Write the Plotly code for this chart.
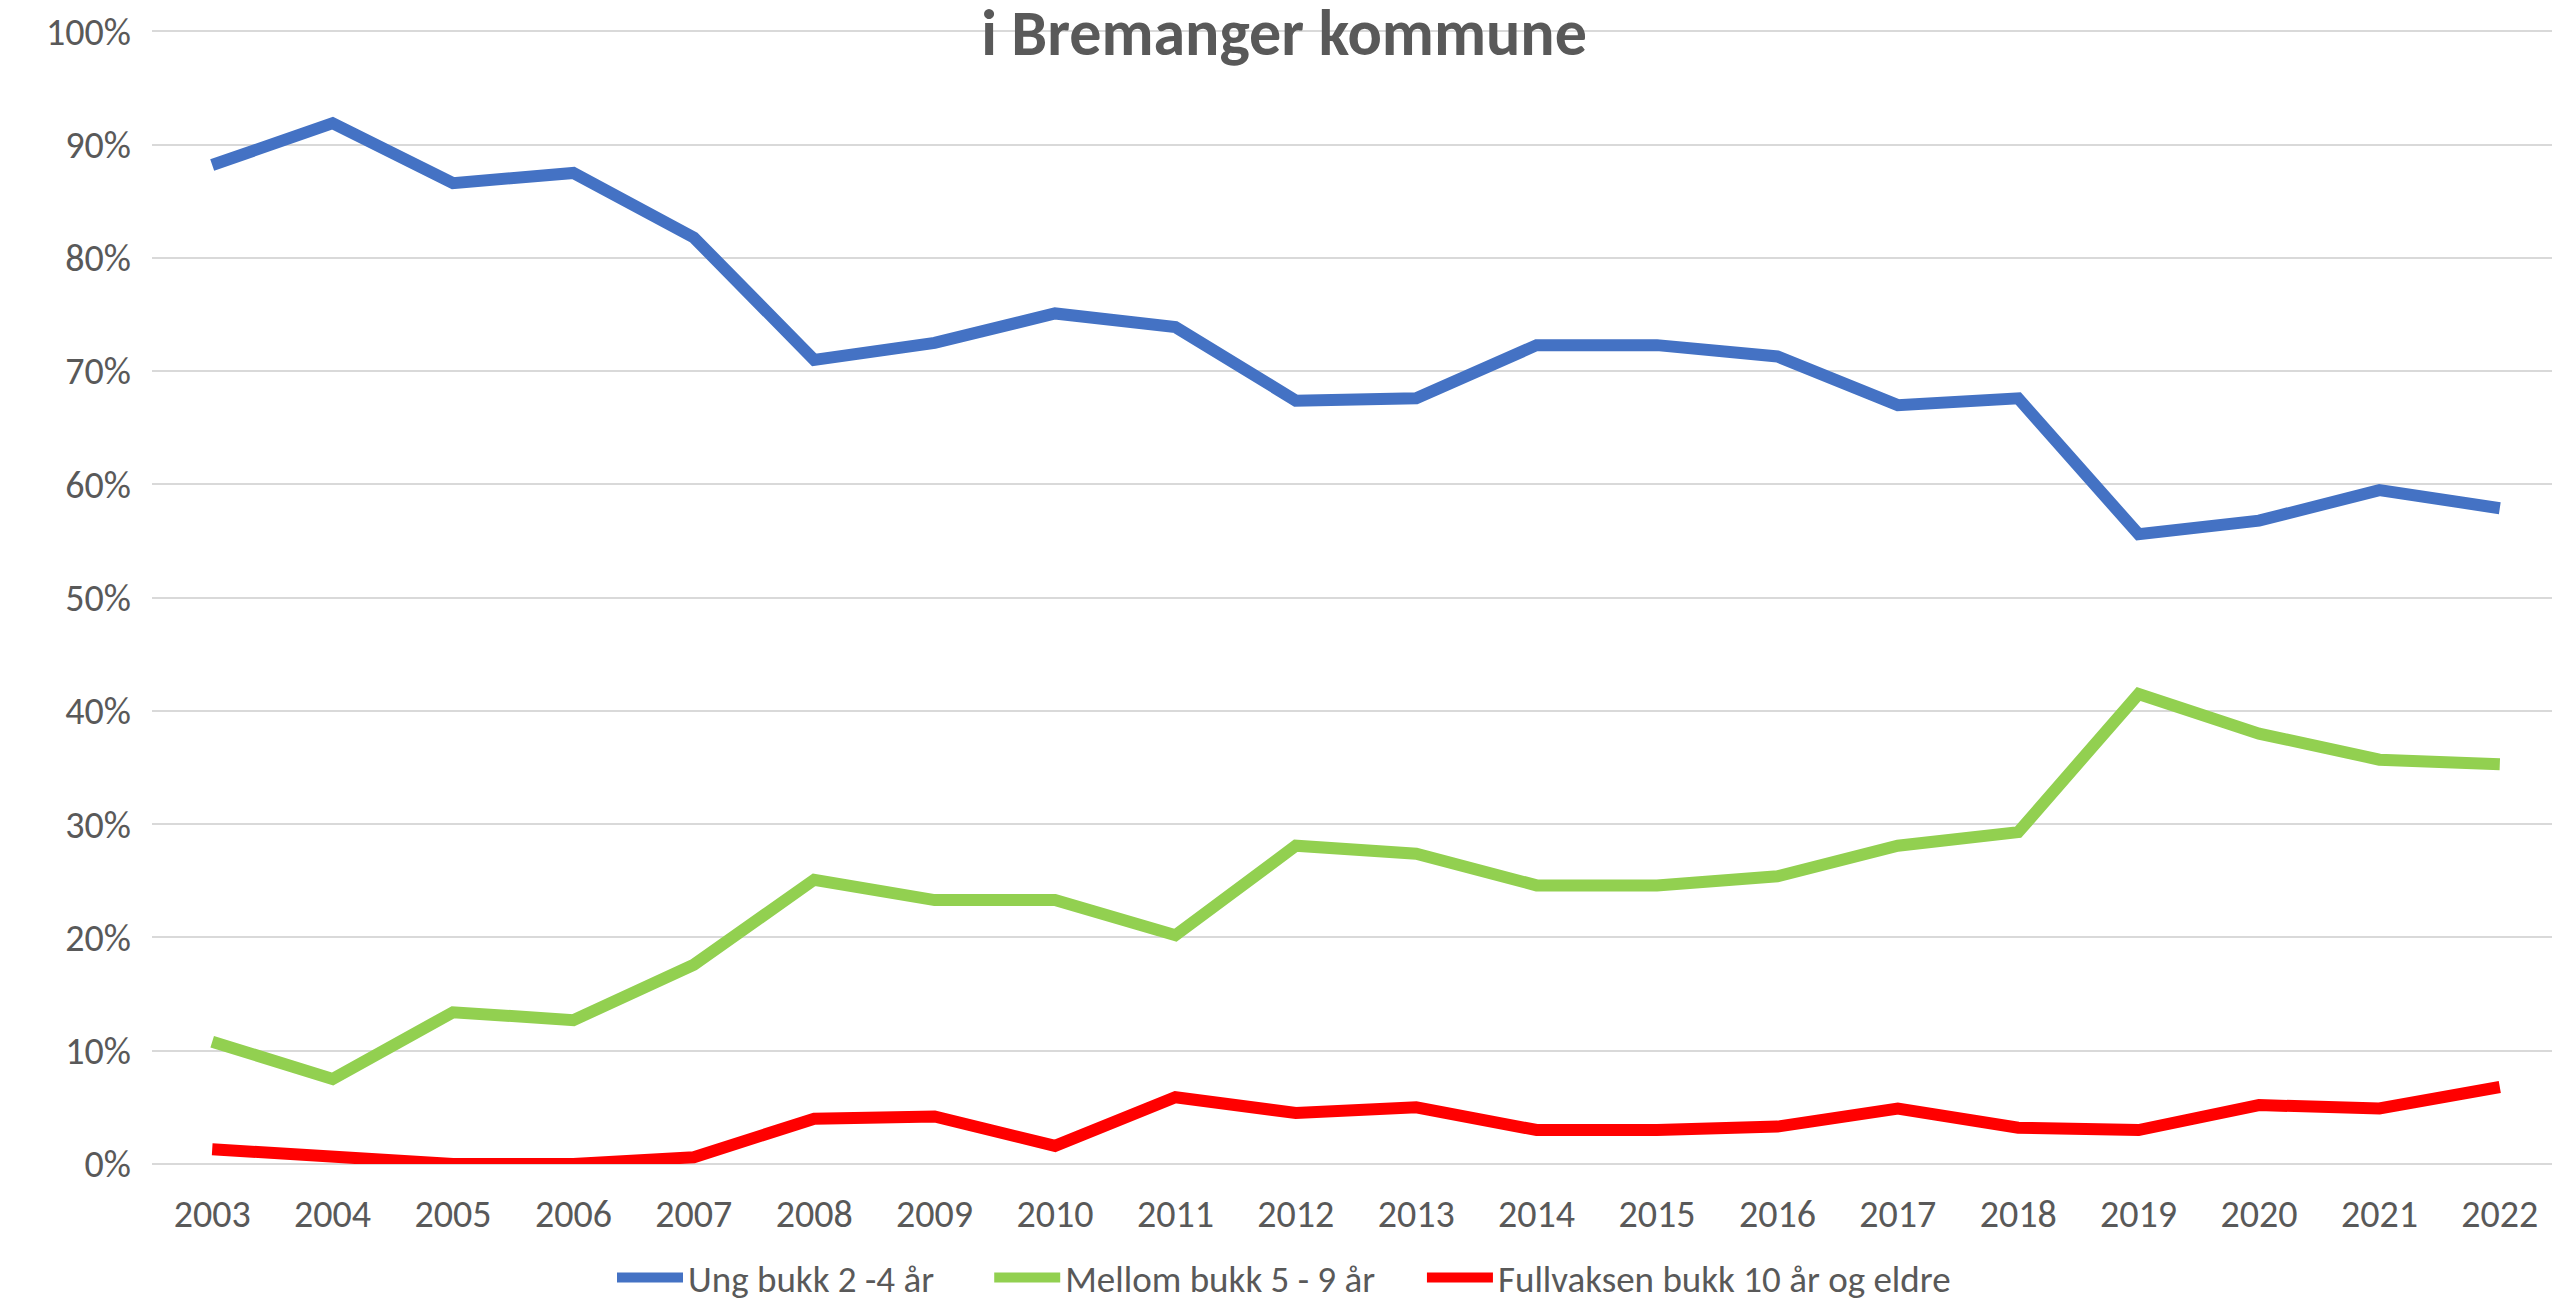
import plotly.graph_objects as go

years = [str(y) for y in range(2003, 2023)]
ung = [0.882, 0.919, 0.866, 0.875, 0.818, 0.710, 0.725, 0.751, 0.739, 0.674,
       0.676, 0.723, 0.723, 0.713, 0.670, 0.676, 0.556, 0.568, 0.595, 0.579]
mellom = [0.108, 0.075, 0.134, 0.127, 0.176, 0.251, 0.233, 0.233, 0.202, 0.281,
          0.274, 0.246, 0.246, 0.254, 0.281, 0.293, 0.415, 0.380, 0.357, 0.353]
full = [0.013, 0.007, 0.000, 0.000, 0.006, 0.040, 0.042, 0.016, 0.059, 0.045,
        0.050, 0.030, 0.030, 0.033, 0.049, 0.032, 0.030, 0.052, 0.049, 0.068]
names = ["Ung bukk 2 -4 år", "Mellom bukk 5 - 9 år", "Fullvaksen bukk 10 år og eldre"]
colors = ["#4472C4", "#92D050", "#FF0000"]
title = "i Bremanger kommune"
y_ticks = [0, 0.1, 0.2, 0.3, 0.4, 0.5, 0.6, 0.7, 0.8, 0.9, 1.0]
y_ticklabels = ["0%", "10%", "20%", "30%", "40%", "50%", "60%", "70%", "80%", "90%", "100%"]

FONT = "Carlito, Calibri, Liberation Sans Narrow, sans-serif"
TXT = "#595959"
W, H = 2552, 1293
PADS = ["\u00a0" * 6, "\u00a0" * 5, ""]  # spacing between legend entries

fig = go.Figure()
for vals, name, col, pad in zip([ung, mellom, full], names, colors, PADS):
    fig.add_trace(go.Scatter(x=years, y=vals, name=name + pad, mode="lines",
                             line=dict(color=col, width=12, shape="linear"),
                             hovertemplate=name + ": %{y:.1%}<extra>%{x}</extra>"))

fig.update_layout(
    width=W, height=H,
    autosize=False,
    paper_bgcolor="white", plot_bgcolor="white",
    margin=dict(l=144, r=0, t=20, b=137),
    font=dict(family=FONT, size=38, color=TXT),
    title=dict(text="<b>" + title + "</b>", x=0.5, xref="container", xanchor="center",
               y=1 - 25 / H, yref="container", yanchor="middle",
               font=dict(family=FONT, size=64, color=TXT)),
    showlegend=True,
    legend=dict(orientation="h", xref="container", x=0.5, xanchor="center",
                yref="container", y=1 - 1270 / H, yanchor="middle",
                itemwidth=66,
                font=dict(family=FONT, size=37, color=TXT),
                bgcolor="rgba(0,0,0,0)"),
    xaxis=dict(type="category", range=[-0.5, 19.5], showgrid=False, showline=False,
               zeroline=False, ticks="", ticklabelstandoff=24,
               tickfont=dict(family=FONT, size=38, color=TXT)),
    yaxis=dict(range=[0, 1.003], tickmode="array", tickvals=y_ticks, ticktext=y_ticklabels,
               showgrid=True, gridcolor="#D9D9D9", gridwidth=2, zeroline=True,
               zerolinecolor="#D9D9D9", zerolinewidth=2, showline=False, ticks="",
               ticklabelstandoff=20, tickfont=dict(family=FONT, size=38, color=TXT)),
)

fig.write_html("out.html")
